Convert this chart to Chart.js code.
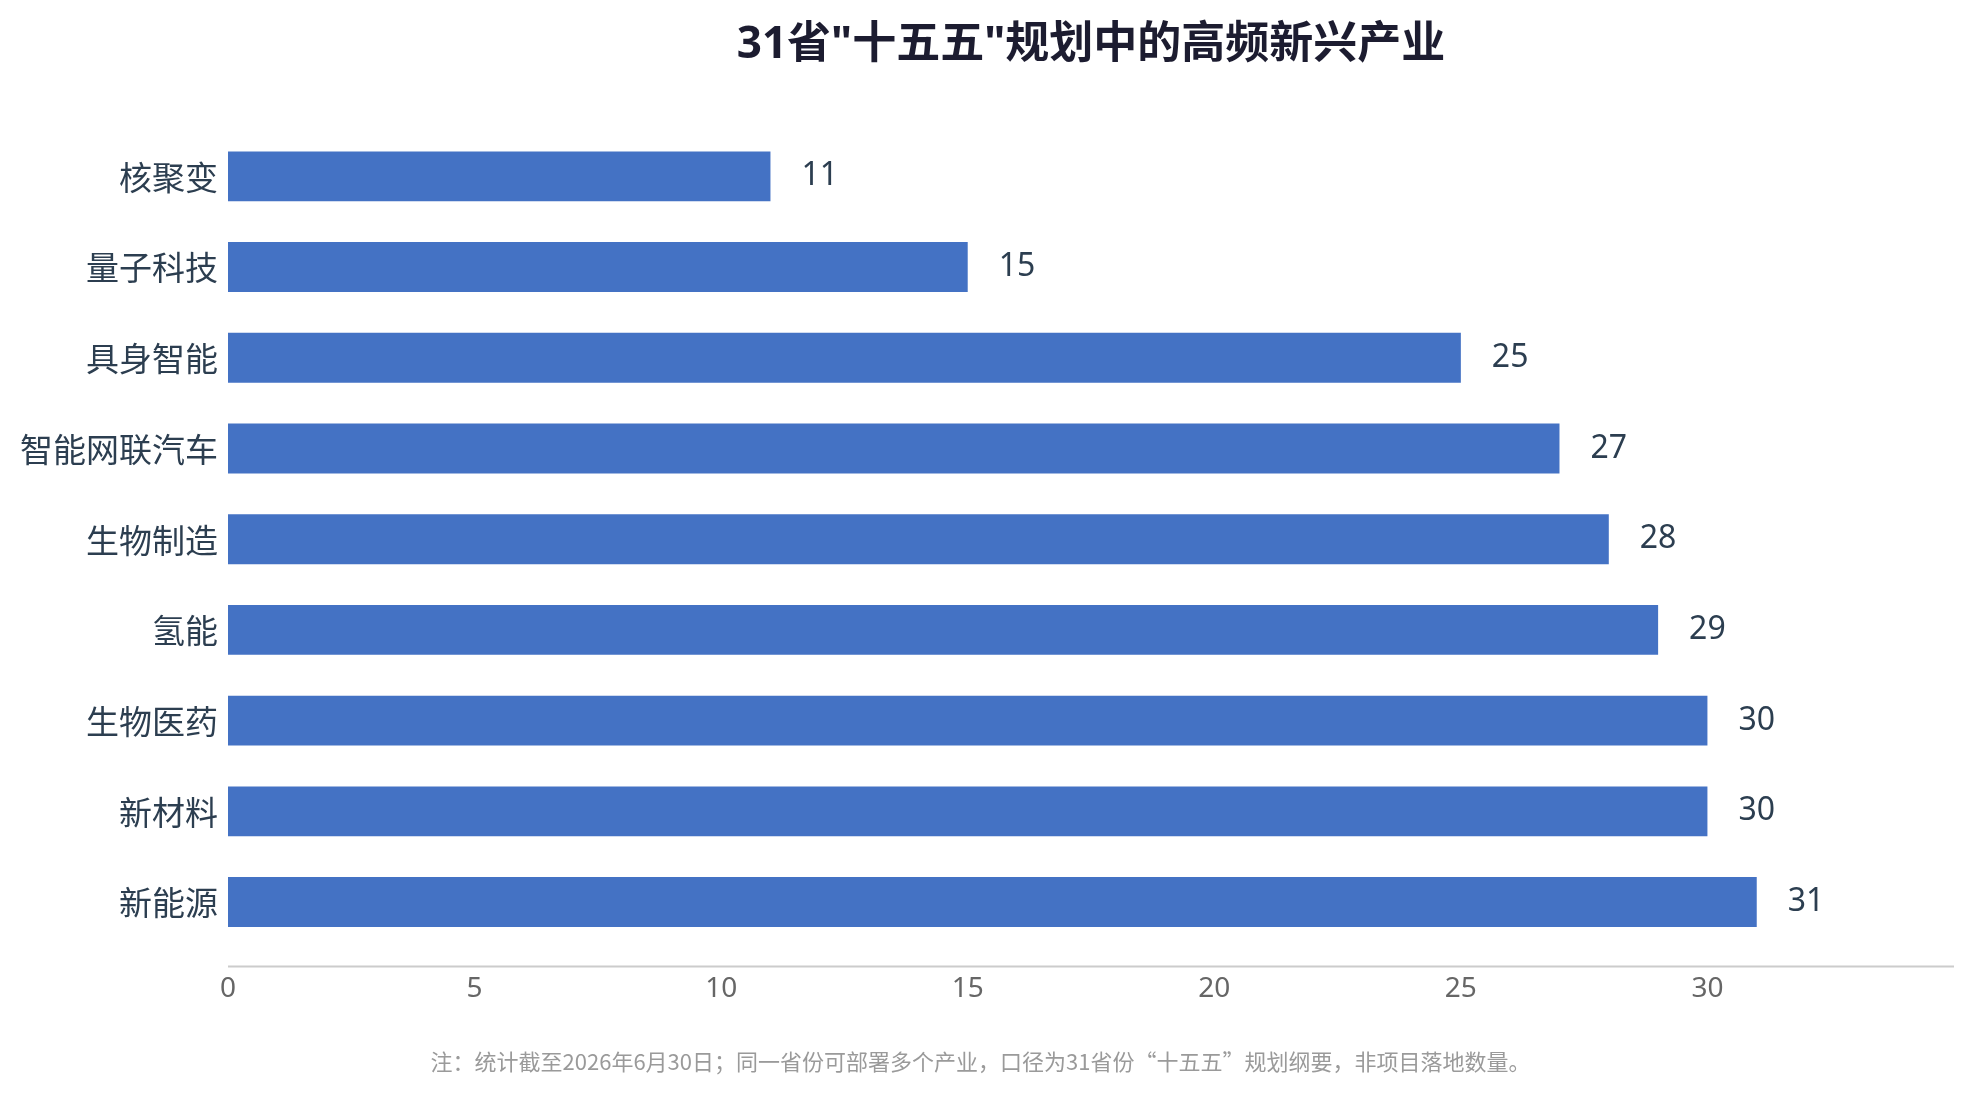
<!DOCTYPE html>
<html>
<head>
<meta charset="utf-8">
<script src="https://cdn.jsdelivr.net/npm/chart.js@4.4.1/dist/chart.umd.min.js"></script>
<style>
  html, body { margin: 0; padding: 0; background: #fff; }
  #wrap { width: 1979px; height: 1093px; }
</style>
</head>
<body>
<div id="wrap"><canvas id="industryChart" width="1979" height="1093"></canvas></div>
<script>
// categories and counts, top to bottom
var industries = ["核聚变", "量子科技", "具身智能", "智能网联汽车", "生物制造", "氢能", "生物医药", "新材料", "新能源"];
var provinceCounts = [11, 15, 25, 27, 28, 29, 30, 30, 31];
var xTicksMax = 35;
var xTicksStep = 5;

var FONT = '"Noto Sans", "Noto Sans CJK SC", sans-serif';
var CJK_FONT = '"Noto Sans CJK SC", "Noto Sans", sans-serif';

// value label at the end of each bar
var barValues = {
    id: 'barValues',
    afterDatasetsDraw: function (chart) {
        var ctx = chart.ctx;
        var meta = chart.getDatasetMeta(0);
        ctx.save();
        ctx.font = '32px ' + FONT;
        ctx.fillStyle = '#2c3e50';
        ctx.textAlign = 'left';
        ctx.textBaseline = 'middle';
        meta.data.forEach(function (bar, i) {
            ctx.fillText(chart.data.datasets[0].data[i], bar.x + 31, bar.y);
        });
        ctx.restore();
    }
};

// x axis line sits a little below the last bar band
var axisLine = {
    id: 'axisLine',
    afterDraw: function (chart) {
        var a = chart.chartArea;
        var ctx = chart.ctx;
        ctx.save();
        ctx.strokeStyle = '#cccccc';
        ctx.lineWidth = 2;
        ctx.beginPath();
        ctx.moveTo(a.left, a.bottom + 19);
        ctx.lineTo(a.right, a.bottom + 19);
        ctx.stroke();
        ctx.restore();
    }
};

var chart = new Chart(document.getElementById('industryChart').getContext('2d'), {
    type: 'bar',
    data: {
        labels: industries,
        datasets: [{
            data: provinceCounts,
            backgroundColor: '#4472C4',
            categoryPercentage: 1,
            barPercentage: 0.55
        }]
    },
    options: {
        indexAxis: 'y',
        responsive: false,
        animation: false,
        devicePixelRatio: 1,
        layout: { padding: { left: 0, right: 18, top: 0, bottom: 0 } },
        plugins: {
            legend: { display: false },
            tooltip: { enabled: false },
            title: {
                display: true,
                text: '31省"十五五"规划中的高频新兴产业',
                fullSize: false,
                color: '#1c1c30',
                font: { family: FONT, size: 44, weight: 'bold', lineHeight: 1 },
                padding: { top: 23, bottom: 64 }
            },
            subtitle: {
                display: true,
                position: 'bottom',
                text: '注：统计截至2026年6月30日；同一省份可部署多个产业，口径为31省份“十五五”规划纲要，非项目落地数量。',
                color: '#9a9a9a',
                font: { family: CJK_FONT, size: 22, lineHeight: 1 },
                padding: { top: 20, bottom: 20 }
            }
        },
        scales: {
            x: {
                min: 0,
                max: xTicksMax,
                grid: { display: false, drawTicks: false },
                border: { display: false },
                ticks: {
                    stepSize: xTicksStep,
                    padding: 25,
                    color: '#666666',
                    font: { family: FONT, size: 28 },
                    callback: function (v) { return v === xTicksMax ? '' : v; }
                }
            },
            y: {
                grid: { display: false, drawTicks: false },
                border: { display: false },
                ticks: {
                    padding: 10,
                    labelOffset: 4,
                    color: '#2c3e50',
                    font: { family: FONT, size: 33 }
                },
                afterFit: function (scale) { scale.width = 228; }
            }
        }
    },
    plugins: [barValues, axisLine]
});
</script>
</body>
</html>
